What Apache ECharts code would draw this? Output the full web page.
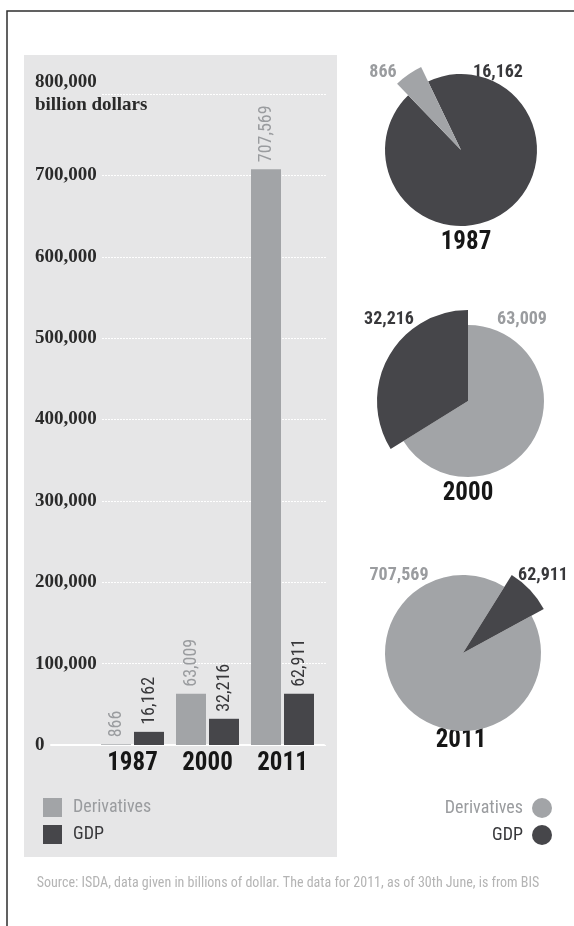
<!DOCTYPE html>
<html>
<head>
<meta charset="utf-8">
<script src="https://cdn.jsdelivr.net/npm/echarts@6/dist/echarts.min.js"></script>
<style>
html,body{margin:0;padding:0;background:#fff;}
#chart{width:574px;height:926px;}
</style>
</head>
<body>
<div id="chart"></div>
<script>
// ---- data ----
const years = ['1987', '2000', '2011'];
const derivatives = [866, 63009, 707569];
const gdp = [16162, 32216, 62911];
const seriesNames = ['Derivatives', 'GDP'];
const yMin = 0, yMax = 800000, yInterval = 100000;
const yUnit = 'billion dollars';
const sourceNote = 'Source: ISDA, data given in billions of dollar. The data for 2011, as of 30th June, is from BIS';

// ---- styles ----
const GRAY = '#a2a4a7';
const DARK = '#46464a';
const GRAY_TXT = '#9a9c9f';
const DARK_TXT = '#38383b';
const NARROW = "'Roboto Condensed','DejaVu Sans Condensed',sans-serif";
const SERIF = "'Liberation Serif','DejaVu Serif',serif";
const fmt = v => v.toLocaleString('en-US');

const chart = echarts.init(document.getElementById('chart'), null, {renderer: 'canvas'});

// pie layouts
const pieLayout = [
  {center: [461, 150], r: 76, rOut: 92, startAngle: 134, order: ['d', 'g'], out: 'd'},
  {center: [468, 401], r: 76, rOut: 91, startAngle: 90, order: ['d', 'g'], out: 'g'},
  {center: [463, 653], r: 78, rOut: 92, startAngle: 58, order: ['g', 'd'], out: 'g'}
];
const pieLabelPos = [
  {d: [383, 72], g: [498, 72], year: [466, 243]},
  {d: [522, 319], g: [389, 319], year: [468, 494]},
  {d: [399, 575], g: [543, 575], year: [461, 741]}
];

const pieSeries = [];
years.forEach((y, i) => {
  const L = pieLayout[i];
  const vals = {d: derivatives[i], g: gdp[i]};
  const cols = {d: GRAY, g: DARK};
  const nm = {d: seriesNames[0], g: seriesNames[1]};
  const mk = (outer) => L.order.map(k => ({
    name: nm[k], value: vals[k],
    itemStyle: {color: (outer ? k === L.out : k !== L.out) ? cols[k] : 'rgba(0,0,0,0)'}
  }));
  const common = {
    type: 'pie', center: L.center, startAngle: L.startAngle, clockwise: true,
    silent: true, label: {show: false}, labelLine: {show: false},
    emphasis: {disabled: true}, animation: false, avoidLabelOverlap: false,
    minAngle: 0
  };
  pieSeries.push(Object.assign({}, common, {name: 'pie' + y, radius: [0, L.r], data: mk(false), z: 2}));
  pieSeries.push(Object.assign({}, common, {name: 'pieOut' + y, radius: [0, L.rOut], data: mk(true), z: 3}));
});

const pieTexts = [];
years.forEach((y, i) => {
  const P = pieLabelPos[i];
  pieTexts.push({type: 'text', x: P.d[0], y: P.d[1], style: {text: fmt(derivatives[i]), fill: GRAY_TXT, font: "bold 18px " + NARROW, textAlign: 'center', textVerticalAlign: 'middle'}});
  pieTexts.push({type: 'text', x: P.g[0], y: P.g[1], style: {text: fmt(gdp[i]), fill: DARK_TXT, font: "bold 18px " + NARROW, textAlign: 'center', textVerticalAlign: 'middle'}});
  pieTexts.push({type: 'text', x: P.year[0], y: P.year[1], style: {text: y, fill: '#161616', font: "bold 25px " + NARROW, textAlign: 'center', textVerticalAlign: 'middle'}});
});

const gridTop = 94, gridH = 651;

const option = {
  animation: false,
  backgroundColor: '#ffffff',
  graphic: [
    {type: 'rect', z: -1, shape: {x: 24, y: 55, width: 313, height: 802}, style: {fill: '#e6e6e7'}},
    {type: 'polyline', z: 10, shape: {points: [[7, 926], [7, 11], [574, 11]]}, style: {stroke: '#2e2e2e', lineWidth: 1.5, fill: null}},
    {type: 'text', x: 288, y: 883, style: {text: sourceNote, fill: '#b4b4b4', font: "14px " + NARROW, textAlign: 'center', textVerticalAlign: 'middle'}}
  ].concat(pieTexts),
  grid: [
    {left: 102, top: gridTop, width: 225, height: gridH},
    {left: 95, top: gridTop, width: 225, height: gridH},
    {left: 51, top: gridTop, width: 273, height: gridH}
  ],
  xAxis: [
    {gridIndex: 0, type: 'category', data: years, show: false},
    {gridIndex: 1, type: 'category', data: years,
      axisLine: {show: false}, axisTick: {show: false},
      axisLabel: {interval: 0, margin: 6, fontSize: 25, fontWeight: 'bold', color: '#161616', fontFamily: NARROW}},
    {gridIndex: 2, type: 'category', data: years,
      axisLine: {show: true, lineStyle: {color: '#ffffff', width: 2}}, axisTick: {show: false}, axisLabel: {show: false}}
  ],
  yAxis: [
    {gridIndex: 0, type: 'value', min: yMin, max: yMax, interval: yInterval,
      axisLine: {show: false}, axisTick: {show: false},
      splitLine: {show: true, lineStyle: {color: '#ffffff', width: 1, type: [2, 1]}},
      axisLabel: {align: 'left', margin: 67, color: '#2a2a2a', fontFamily: SERIF, fontWeight: 'bold', fontSize: 19, lineHeight: 23,
        formatter: v => v === yMax ? fmt(v) + '\n' + yUnit : fmt(v)}},
    {gridIndex: 1, type: 'value', min: yMin, max: yMax, interval: yInterval, show: false, splitLine: {show: false}},
    {gridIndex: 2, type: 'value', min: yMin, max: yMax, interval: yInterval, show: false, splitLine: {show: false}}
  ],
  legend: [
    {orient: 'vertical', left: 43, top: 798, padding: 0, itemWidth: 19, itemHeight: 19, itemGap: 8, icon: 'rect',
      selectedMode: false,
      textStyle: {fontSize: 18, fontFamily: NARROW, padding: [0, 0, 0, 6]},
      data: [{name: seriesNames[0], textStyle: {color: GRAY_TXT}}, {name: seriesNames[1], textStyle: {color: DARK_TXT}}]},
    {orient: 'vertical', right: 22, top: 798, padding: 0, itemWidth: 20, itemHeight: 20, itemGap: 7, icon: 'circle', align: 'right',
      selectedMode: false,
      textStyle: {fontSize: 18, fontFamily: NARROW, padding: [0, 4, 0, 0]},
      data: [{name: seriesNames[0], textStyle: {color: GRAY_TXT}}, {name: seriesNames[1], textStyle: {color: DARK_TXT}}]}
  ],
  series: [
    {name: seriesNames[0], type: 'bar', xAxisIndex: 1, yAxisIndex: 1, data: derivatives, barWidth: 30, barGap: '10%',
      itemStyle: {color: GRAY}, silent: true,
      label: {show: true, position: 'top', rotate: 90, align: 'left', verticalAlign: 'middle', distance: 7,
        color: GRAY_TXT, fontSize: 18, fontFamily: NARROW, formatter: p => fmt(p.value)}},
    {name: seriesNames[1], type: 'bar', xAxisIndex: 1, yAxisIndex: 1, data: gdp, barWidth: 30, barGap: '10%',
      itemStyle: {color: DARK}, silent: true,
      label: {show: true, position: 'top', rotate: 90, align: 'left', verticalAlign: 'middle', distance: 7,
        color: DARK_TXT, fontSize: 18, fontFamily: NARROW, formatter: p => fmt(p.value)}}
  ].concat(pieSeries)
};
chart.setOption(option);
</script>
</body>
</html>
